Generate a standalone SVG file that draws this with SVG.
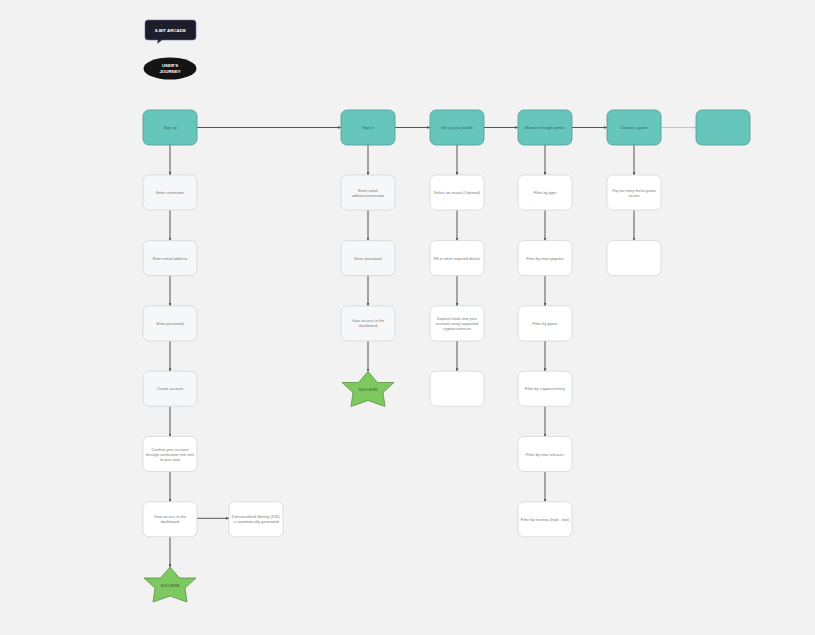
<svg xmlns="http://www.w3.org/2000/svg" width="815" height="635" viewBox="0 0 815 635">
<defs>
<style>
.t{fill:#67c6bc;stroke:#4b9a90;stroke-width:0.8}
.g{fill:#f6f7f8;stroke:#cfd2d4;stroke-width:0.7}
.w{fill:#ffffff;stroke:#cfd2d4;stroke-width:0.7}
.lb{font-family:"Liberation Sans",Arial,sans-serif;font-size:3.9px;fill:#7a7a7a;text-anchor:middle}
.lt{font-family:"Liberation Sans",Arial,sans-serif;font-size:3.9px;fill:#2f6660;text-anchor:middle}
.hd{font-family:"Liberation Sans",Arial,sans-serif;font-size:4.4px;font-weight:bold;fill:#ffffff;text-anchor:middle}
.st{fill:#7ec95f;stroke:#5a8f47;stroke-width:0.8}
.sl{font-family:"Liberation Sans",Arial,sans-serif;font-size:3.9px;fill:#2e4a22;text-anchor:middle}
.c{stroke:#555;stroke-width:1;fill:none;marker-end:url(#a)}
.cl{stroke:#c4c4c4;stroke-width:1;fill:none;marker-end:url(#al)}
</style>
<marker id="a" viewBox="0 0 6 6" refX="6" refY="3" markerWidth="3" markerHeight="3" orient="auto"><path d="M0,0L6,3L0,6z" fill="#555"/></marker>
<marker id="al" viewBox="0 0 6 6" refX="6" refY="3" markerWidth="3" markerHeight="3" orient="auto"><path d="M0,0L6,3L0,6z" fill="#c4c4c4"/></marker>
<polygon id="star" points="0,-18 9.5,-7 26,-7 15,3 17,17 0,11 -17,17 -15,3 -26,-7 -9.5,-7"/>
</defs>
<rect width="815" height="635" fill="#f2f2f2"/>

<g id="header-title">
<path d="M148,20h45a3,3 0 0 1 3,3v14a3,3 0 0 1 -3,3h-31l-4.5,3.5l0.5,-3.5h-10a3,3 0 0 1 -3,-3v-14a3,3 0 0 1 3,-3z" fill="#1d1d2c" stroke="#6a6aa0" stroke-width="0.6"/>
<text class="hd" x="170.5" y="31.6">8-BIT ARCADE</text>
</g>
<g id="header-journey">
<ellipse cx="170" cy="68.5" rx="26.5" ry="11" fill="#141414"/>
<text class="hd" x="170" y="67.3">USER'S</text>
<text class="hd" x="170" y="72.8">JOURNEY</text>
</g>

<g id="connectors">
<path class="c" d="M197,127.5H341"/>
<path class="c" d="M395,127.5H430"/>
<path class="c" d="M484,127.5H518"/>
<path class="c" d="M572,127.5H607"/>
<path class="cl" d="M661,127.5H696"/>
<path class="c" d="M170,145V175"/>
<path class="c" d="M170,210.3V240.6"/>
<path class="c" d="M170,275.6V305.9"/>
<path class="c" d="M170,340.9V371.2"/>
<path class="c" d="M170,406.2V436.5"/>
<path class="c" d="M170,471.5V501.8"/>
<path class="c" d="M170,536.8V567"/>
<path class="c" d="M197,518.3H229"/>
<path class="c" d="M368,145V175"/>
<path class="c" d="M368,210.3V240.6"/>
<path class="c" d="M368,275.6V305.9"/>
<path class="c" d="M368,340.9V371.5"/>
<path class="c" d="M457,145V175"/>
<path class="c" d="M457,210.3V240.6"/>
<path class="c" d="M457,275.6V305.9"/>
<path class="c" d="M457,340.9V371.2"/>
<path class="c" d="M545,145V175"/>
<path class="c" d="M545,210.3V240.6"/>
<path class="c" d="M545,275.6V305.9"/>
<path class="c" d="M545,340.9V371.2"/>
<path class="c" d="M545,406.2V436.5"/>
<path class="c" d="M545,471.5V501.8"/>
<path class="c" d="M634,145V175"/>
<path class="c" d="M634,210.3V240.6"/>
</g>

<g id="n-signup"><rect class="t" x="143" y="110" width="54" height="35" rx="6"/><text class="lt" x="170" y="129">Sign up</text></g>
<g id="n-username"><rect class="g" x="143" y="175" width="54" height="35" rx="6"/><text class="lb" x="170" y="194">Enter username</text></g>
<g id="n-email"><rect class="g" x="143" y="240.6" width="54" height="35" rx="6"/><text class="lb" x="170" y="259.6">Enter email address</text></g>
<g id="n-password"><rect class="g" x="143" y="305.9" width="54" height="35" rx="6"/><text class="lb" x="170" y="324.9">Enter password</text></g>
<g id="n-create"><rect class="g" x="143" y="371.2" width="54" height="35" rx="6"/><text class="lb" x="170" y="390.2">Create account</text></g>
<g id="n-confirm"><rect class="w" x="143" y="436.5" width="54" height="35" rx="6"/><text class="lb" x="170" y="450.5">Confirm your account</text><text class="lb" x="170" y="455.6">through verification link sent</text><text class="lb" x="170" y="460.7">to your mail</text></g>
<g id="n-gain1"><rect class="w" x="143" y="501.8" width="54" height="35" rx="6"/><text class="lb" x="170" y="518">Gain access to the</text><text class="lb" x="170" y="523.1">dashboard</text></g>
<g id="n-did"><rect class="w" x="229" y="501.8" width="54" height="35" rx="6"/><text class="lb" x="256" y="518">Decentralized Identity (DID)</text><text class="lb" x="256" y="523.1">is automatically generated</text></g>
<g id="n-success1"><use href="#star" class="st" x="170" y="585"/><text class="sl" x="170" y="586.5">SUCCESS</text></g>

<g id="n-signin"><rect class="t" x="341" y="110" width="54" height="35" rx="6"/><text class="lt" x="368" y="129">Sign in</text></g>
<g id="n-email2"><rect class="g" x="341" y="175" width="54" height="35" rx="6"/><text class="lb" x="368" y="191.5">Enter email</text><text class="lb" x="368" y="196.6">address/username</text></g>
<g id="n-password2"><rect class="g" x="341" y="240.6" width="54" height="35" rx="6"/><text class="lb" x="368" y="259.6">Enter password</text></g>
<g id="n-gain2"><rect class="g" x="341" y="305.9" width="54" height="35" rx="6"/><text class="lb" x="368" y="322.2">Gain access to the</text><text class="lb" x="368" y="327.3">dashboard</text></g>
<g id="n-success2"><use href="#star" class="st" x="368" y="389.5"/><text class="sl" x="368" y="391">SUCCESS</text></g>

<g id="n-profile"><rect class="t" x="430" y="110" width="54" height="35" rx="6"/><text class="lt" x="457" y="129">Set up your profile</text></g>
<g id="n-avatar"><rect class="w" x="430" y="175" width="54" height="35" rx="6"/><text class="lb" x="457" y="194">Select an avatar (Optional)</text></g>
<g id="n-details"><rect class="w" x="430" y="240.6" width="54" height="35" rx="6"/><text class="lb" x="457" y="259.6">Fill in other required details</text></g>
<g id="n-deposit"><rect class="w" x="430" y="305.9" width="54" height="35" rx="6"/><text class="lb" x="457" y="319.8">Deposit funds into your</text><text class="lb" x="457" y="324.9">account using supported</text><text class="lb" x="457" y="330">cryptocurrencies</text></g>
<g id="n-empty3"><rect class="w" x="430" y="371.2" width="54" height="35" rx="6"/></g>

<g id="n-browse"><rect class="t" x="518" y="110" width="54" height="35" rx="6"/><text class="lt" x="545" y="129">Browse through games</text></g>
<g id="n-type"><rect class="w" x="518" y="175" width="54" height="35" rx="6"/><text class="lb" x="545" y="194">Filter by type</text></g>
<g id="n-popular"><rect class="w" x="518" y="240.6" width="54" height="35" rx="6"/><text class="lb" x="545" y="259.6">Filter by most popular</text></g>
<g id="n-genre"><rect class="w" x="518" y="305.9" width="54" height="35" rx="6"/><text class="lb" x="545" y="324.9">Filter by genre</text></g>
<g id="n-crypto"><rect class="w" x="518" y="371.2" width="54" height="35" rx="6"/><text class="lb" x="545" y="390.2">Filter by cryptocurrency</text></g>
<g id="n-new"><rect class="w" x="518" y="436.5" width="54" height="35" rx="6"/><text class="lb" x="545" y="455.5">Filter by new releases</text></g>
<g id="n-reviews"><rect class="w" x="518" y="501.8" width="54" height="35" rx="6"/><text class="lb" x="545" y="520.8">Filter by reviews (high - low)</text></g>

<g id="n-choose"><rect class="t" x="607" y="110" width="54" height="35" rx="6"/><text class="lt" x="634" y="129">Choose a game</text></g>
<g id="n-pay"><rect class="w" x="607" y="175" width="54" height="35" rx="6"/><text class="lb" x="634" y="191.5">Pay for entry fee/in-game</text><text class="lb" x="634" y="196.6">assets</text></g>
<g id="n-empty5"><rect class="w" x="607" y="240.6" width="54" height="35" rx="6"/></g>

<g id="n-last"><rect class="t" x="696" y="110" width="54" height="35" rx="6"/></g>
</svg>
